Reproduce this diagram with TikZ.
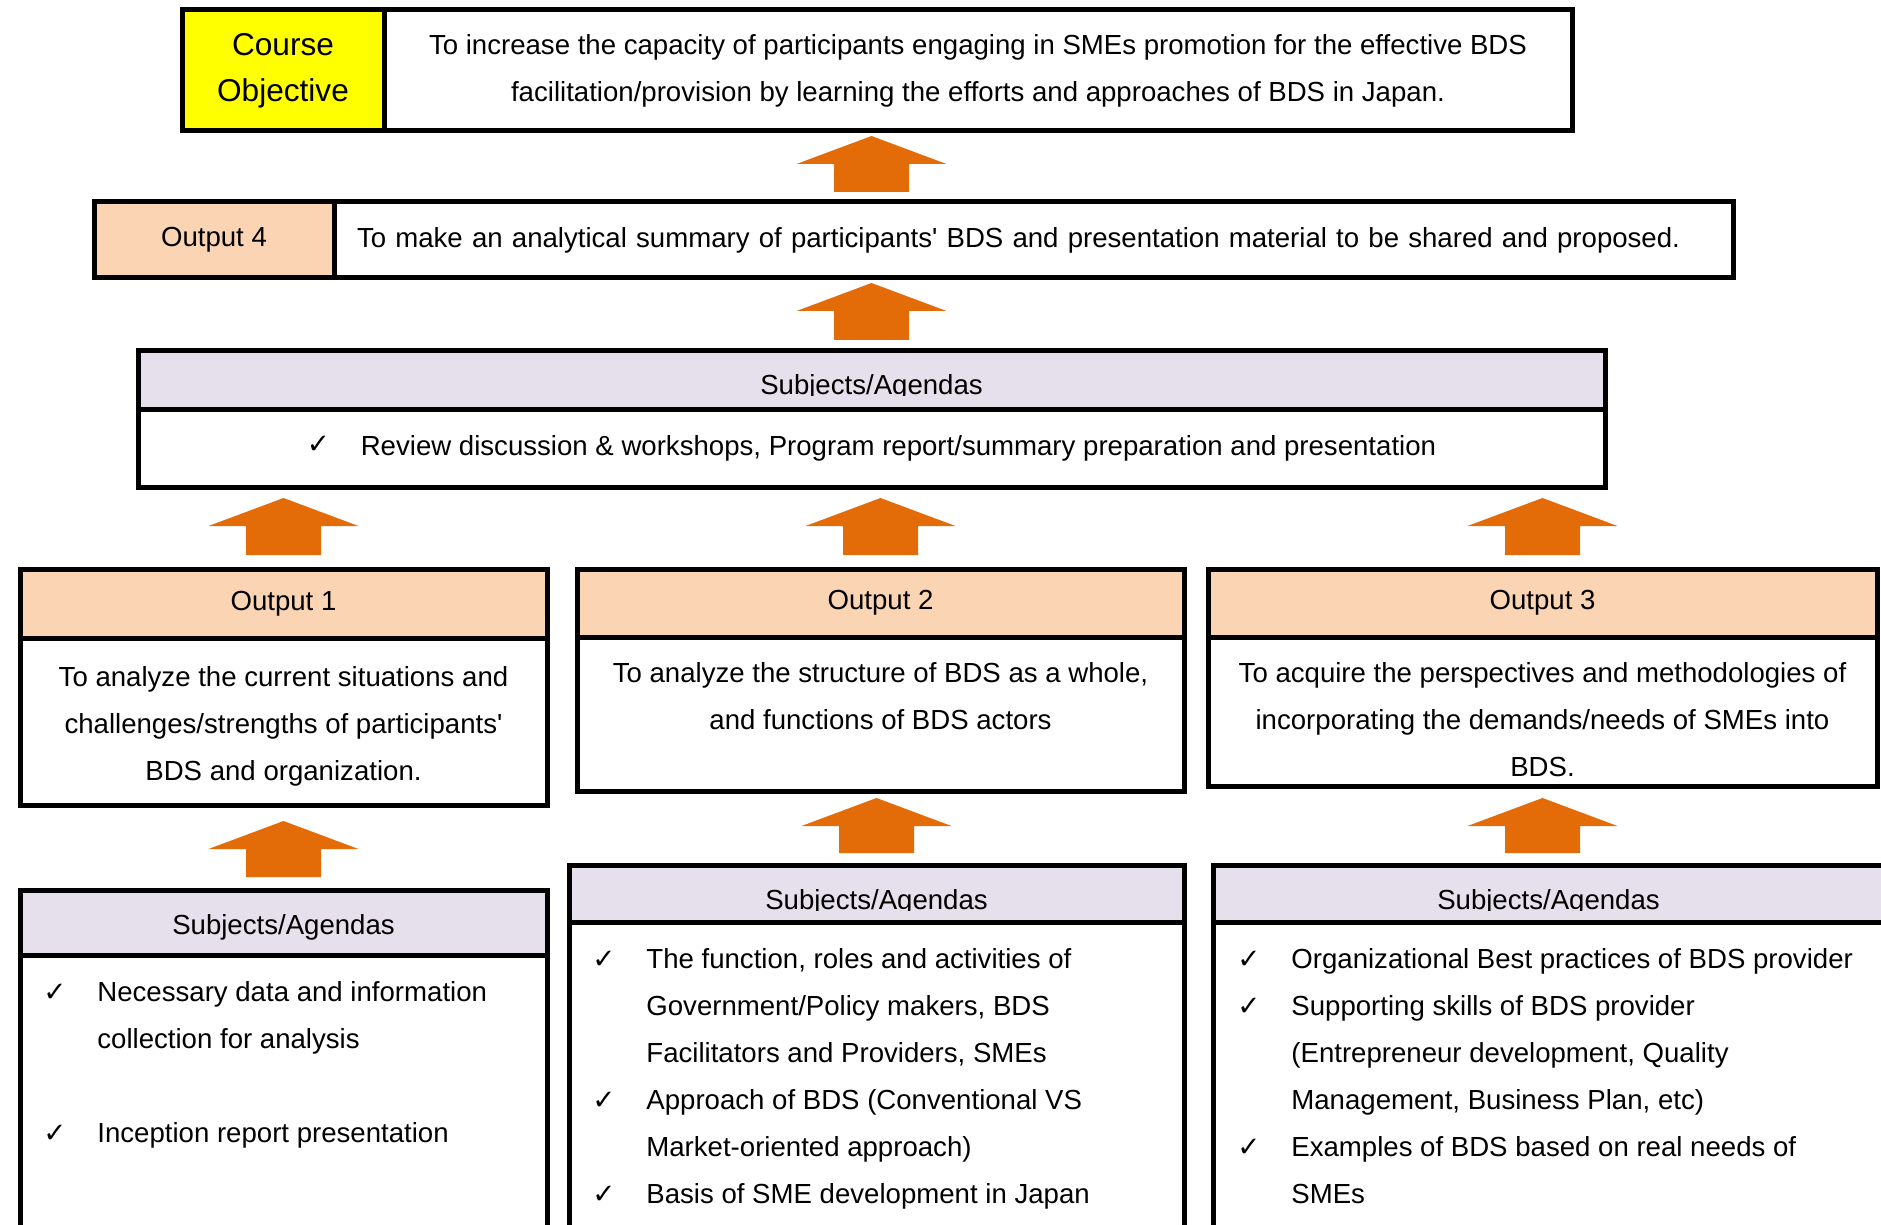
\documentclass[tikz,border=0pt]{standalone}
\usepackage{fontspec}
\setmainfont{Liberation Sans}
\newfontfamily\symfont{DejaVu Sans}
\usetikzlibrary{calc, positioning}
\definecolor{Sun}{HTML}{FFFF00}
\definecolor{Peach}{HTML}{FBD4B4}
\definecolor{Lilac}{HTML}{E5E0EC}
\definecolor{Rust}{HTML}{E36C09}

\newcommand{\chkmark}{\makebox[27pt][l]{\symfont ✓}}
\newcommand{\chkgap}{\hspace*{27pt}}
% column, lower anchor, upper anchor, lower gap, upper gap
\newcommand{\blockarrow}[5]{%
  \fill[Rust] ($(#2 -| #1)+(-37.5,-#4)$) |- ($(#3 -| #1)+(-75,#5+28)$)
    -- ($(#3 -| #1)+(0,#5)$) -- ($(#3 -| #1)+(75,#5+28)$)
    -| ($(#2 -| #1)+(37.5,-#4)$) -- cycle;}

\tikzset{
  box/.style={draw=black, line width=2.5pt, inner sep=0pt, outer sep=0pt, anchor=north west},
  headbox/.style={box, fill=Lilac},
  outhead/.style={box, fill=Peach},
  bodytext/.style={align=center, inner sep=0pt},
  listtext/.style={align=left, inner sep=0pt}
}

\begin{document}
\begin{tikzpicture}[x=0.5pt, y=-0.5pt, font=\fontsize{13.8}{23.5}\selectfont]
\useasboundingbox (0,0) rectangle (1881,1225);

% objective
\node[box, fill=Sun, minimum width=101pt, minimum height=60.5pt, align=center,
  font=\fontsize{15.8}{23}\selectfont] (course) at (182,10) {Course\\Objective};
\node[box, right=0pt of course, minimum width=594pt, minimum height=60.5pt, align=center] (goal)
  {To increase the capacity of participants engaging in SMEs promotion for the effective BDS\\
   facilitation/provision by learning the efforts and approaches of BDS in Japan.};

% output 4
\node[outhead, minimum width=120pt, minimum height=38pt] (out4lbl) at (94,202) {Output 4};
\node[box, right=0pt of out4lbl, minimum width=699.5pt, minimum height=38pt,
  text width=676.5pt, inner xsep=11.5pt, align=left] (out4)
  {To make an analytical summary of participants\textquotesingle{} BDS and presentation material to be shared and proposed.};

% review agendas
\node[headbox, minimum width=733.5pt, minimum height=29.5pt] (revhead) at (138,351) {};
\node[box, below=0pt of revhead, minimum width=733.5pt, minimum height=38.5pt] (review)
  {\raisebox{1pt}{\chkmark}Review discussion \& workshops, Program report/summary preparation and presentation};
\begin{scope}
  \clip (revhead.north west) rectangle ($(revhead.south east)+(0,-14)$);
  \node[inner sep=0pt] (revtitle) at ($(revhead)+(0,6.5)$) {Subjects/Agendas};
\end{scope}

% outputs 1-3
\node[outhead, minimum width=263.5pt, minimum height=34.5pt] (out1head) at (20,569) {Output 1};
\node[box, below=0pt of out1head, minimum width=263.5pt, minimum height=83.5pt] (out1) {};
\node[bodytext, below=14pt of out1.north] (out1text)
  {To analyze the current situations and\\challenges/strengths of participants\textquotesingle\\BDS and organization.};

\node[outhead, minimum width=303.5pt, minimum height=34pt] (out2head) at (577,569) {Output 2};
\node[box, below=0pt of out2head, minimum width=303.5pt, minimum height=77pt] (out2) {};
\node[bodytext, below=12.5pt of out2.north] (out2text)
  {To analyze the structure of BDS as a whole,\\and functions of BDS actors};

\node[outhead, minimum width=334.5pt, minimum height=34pt] (out3head) at (1208,569) {Output 3};
\node[box, below=0pt of out3head, minimum width=334.5pt, minimum height=74.5pt] (out3) {};
\node[bodytext, below=12.5pt of out3.north] (out3text)
  {To acquire the perspectives and methodologies of\\incorporating the demands/needs of SMEs into\\BDS.};

% subjects/agendas 1-3
\node[headbox, minimum width=263.5pt, minimum height=32.5pt] (sub1head) at (20,890) {};
\node[box, below=0pt of sub1head, minimum width=263.5pt, minimum height=150pt] (sub1) {};
\node[inner sep=0pt] (sub1title) at ($(sub1head)+(0,5)$) {Subjects/Agendas};
\node[listtext, below right=13pt and 11.5pt of sub1.north west] (list1)
  {\chkmark Necessary data and information\\\chkgap collection for analysis\\[23.5pt]
   \chkmark Inception report presentation};

\node[headbox, minimum width=307.5pt, minimum height=28.5pt] (sub2head) at (569,865) {};
\node[box, below=0pt of sub2head, minimum width=307.5pt, minimum height=170pt] (sub2) {};
\begin{scope}
  \clip (sub2head.north west) rectangle ($(sub2head.south east)+(0,-12)$);
  \node[inner sep=0pt] (sub2title) at ($(sub2head)+(0,8.5)$) {Subjects/Agendas};
\end{scope}
\node[listtext, below right=13pt and 11.5pt of sub2.north west] (list2)
  {\chkmark The function, roles and activities of\\\chkgap Government/Policy makers, BDS\\
   \chkgap Facilitators and Providers, SMEs\\\chkmark Approach of BDS (Conventional VS\\
   \chkgap Market-oriented approach)\\\chkmark Basis of SME development in Japan};

\node[headbox, minimum width=338.5pt, minimum height=28.5pt] (sub3head) at (1213,865) {};
\node[box, below=0pt of sub3head, minimum width=338.5pt, minimum height=170pt] (sub3) {};
\begin{scope}
  \clip (sub3head.north west) rectangle ($(sub3head.south east)+(0,-12)$);
  \node[inner sep=0pt] (sub3title) at ($(sub3head)+(-3,8.5)$) {Subjects/Agendas};
\end{scope}
\node[listtext, below right=13pt and 12pt of sub3.north west] (list3)
  {\chkmark Organizational Best practices of BDS provider\\\chkmark Supporting skills of BDS provider\\
   \chkgap (Entrepreneur development, Quality\\\chkgap Management, Business Plan, etc)\\
   \chkmark Examples of BDS based on real needs of\\\chkgap SMEs};

% block arrows
\blockarrow{review}{out4.north}{goal.south}{10}{5}
\blockarrow{review}{revhead.north}{out4.south}{11}{5}
\blockarrow{out1head}{out1head.north}{review.south}{14}{11}
\blockarrow{out2head}{out2head.north}{review.south}{14}{11}
\blockarrow{out3head}{out3head.north}{review.south}{14}{11}
\blockarrow{sub1head}{sub1head.north}{out1.south}{13}{16}
\blockarrow{sub2head}{sub2head.north}{out2.south}{12}{7}
\blockarrow{out3head}{sub3head.north}{out3.south}{12}{12}
\end{tikzpicture}
\end{document}
